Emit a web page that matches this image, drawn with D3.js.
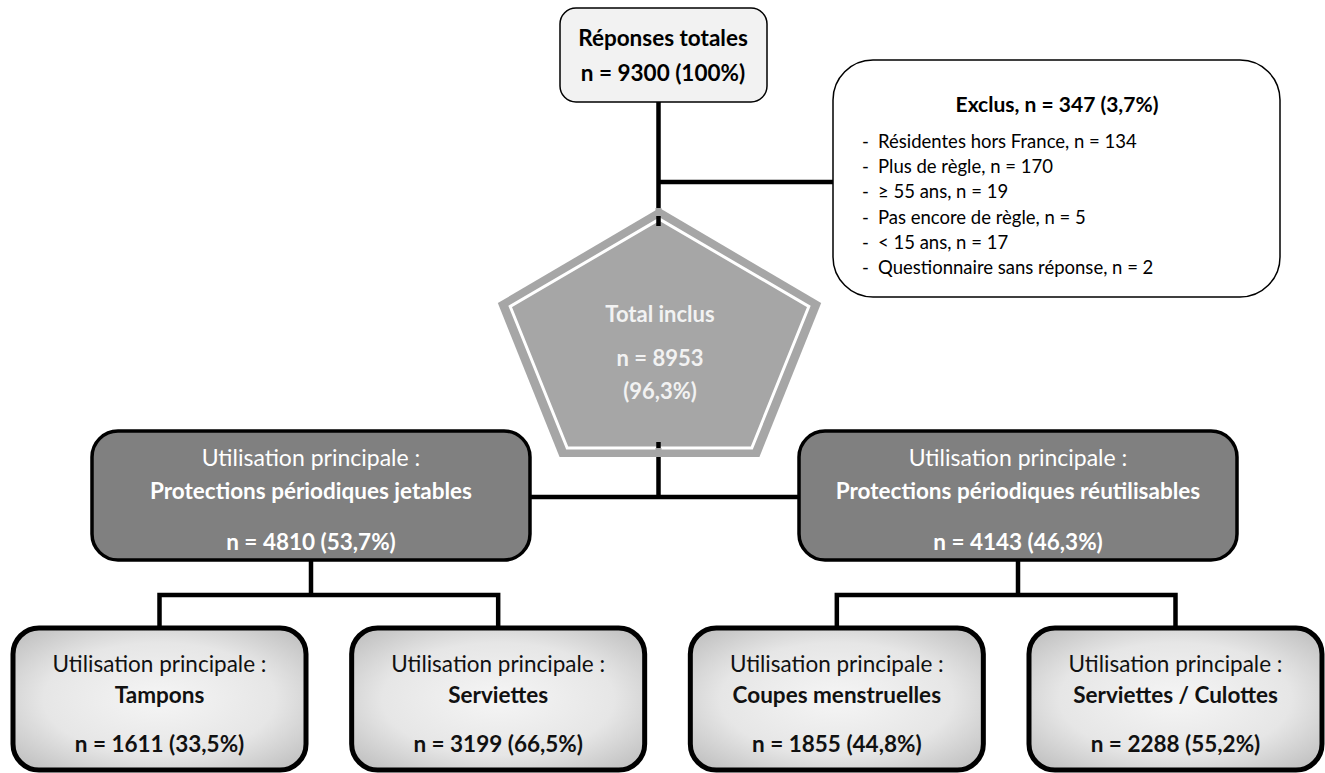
<!DOCTYPE html>
<html>
<head>
<meta charset="utf-8">
<script src="https://cdn.jsdelivr.net/npm/d3@7"></script>
<style>
  body { margin: 0; background: #ffffff; }
  svg text { font-family: Lato, "Open Sans", sans-serif; }
</style>
</head>
<body>
<svg id="flowViz" width="1325" height="773"></svg>
<script>
const totalResponses = 9300;
const totalPct = "100%";
const excludedN = 347;
const excludedPct = "3,7%";
const exclusionReasons = ["Résidentes hors France", "Plus de règle", "≥ 55 ans", "Pas encore de règle", "< 15 ans", "Questionnaire sans réponse"];
const exclusionCounts = [134, 170, 19, 5, 17, 2];
const includedN = 8953;
const includedPct = "96,3%";
const groupNames = ["Protections périodiques jetables", "Protections périodiques réutilisables"];
const groupCounts = [4810, 4143];
const groupPcts = ["53,7%", "46,3%"];
const productNames = ["Tampons", "Serviettes", "Coupes menstruelles", "Serviettes / Culottes"];
const productParent = [0, 0, 1, 1];
const productCounts = [1611, 3199, 1855, 2288];
const productPcts = ["33,5%", "66,5%", "44,8%", "55,2%"];
const headerText = "Utilisation principale :";

const svg = d3.select("#flowViz");

const groupX = d3.scaleBand().domain(groupNames).range([92, 1237]).paddingInner(0.3805);
const productX = d3.scaleBand().domain(productNames).range([13, 1322]).paddingInner(0.1348);
const reasonY = d3.scalePoint().domain(exclusionReasons).range([141, 267]);

const midX = 658.5;
const groupTop = 431, groupH = 129;
const productTop = 628, productH = 142;
const branchY = 497;
const subBranchY = 595;
const boxFont = 22.5;

const defs = svg.append("defs");
const grad = defs.append("radialGradient").attr("id", "lightGrad")
  .attr("cx", "50%").attr("cy", "50%").attr("r", "72%");
grad.append("stop").attr("offset", "0%").attr("stop-color", "#f5f5f5");
grad.append("stop").attr("offset", "55%").attr("stop-color", "#e6e6e6");
grad.append("stop").attr("offset", "100%").attr("stop-color", "#b8b8b8");

// connectors
const lines = svg.append("g").attr("fill", "none").attr("stroke", "#000").attr("stroke-width", 4.5);
lines.append("path").attr("d", `M${midX},102 V${branchY}`);
lines.append("path").attr("d", `M${midX},182 H833`);
lines.append("path").attr("d", `M${groupX(groupNames[0]) + groupX.bandwidth()},${branchY} H${groupX(groupNames[1])}`);

groupNames.forEach((g, gi) => {
  const cx = groupX(g) + groupX.bandwidth() / 2;
  const kids = productNames.filter((p, i) => productParent[i] === gi);
  const x0 = productX(kids[0]) + productX.bandwidth() / 2;
  const x1 = productX(kids[kids.length - 1]) + productX.bandwidth() / 2;
  lines.append("path").attr("d", `M${cx},${groupTop + groupH} V${subBranchY}`);
  lines.append("path").attr("d", `M${x0},${productTop} V${subBranchY} H${x1} V${productTop}`);
});

// top box
svg.append("rect")
  .attr("x", 560).attr("y", 8).attr("width", 207).attr("height", 94)
  .attr("rx", 16)
  .attr("fill", "#f2f2f2").attr("stroke", "#000").attr("stroke-width", 1.5);
svg.append("text").text("Réponses totales")
  .attr("x", 663).attr("y", 37).attr("text-anchor", "middle").attr("dominant-baseline", "central")
  .attr("font-size", 22.5).attr("font-weight", "bold");
svg.append("text").text(`n = ${totalResponses} (${totalPct})`)
  .attr("x", 663).attr("y", 72).attr("text-anchor", "middle").attr("dominant-baseline", "central")
  .attr("font-size", 22.5).attr("font-weight", "bold");

// excluded box
svg.append("rect")
  .attr("x", 833).attr("y", 60).attr("width", 447).attr("height", 237)
  .attr("rx", 40)
  .attr("fill", "#fff").attr("stroke", "#000").attr("stroke-width", 1.5);
svg.append("text").text(`Exclus, n = ${excludedN} (${excludedPct})`)
  .attr("x", 1057).attr("y", 103).attr("text-anchor", "middle").attr("dominant-baseline", "central")
  .attr("font-size", 21).attr("font-weight", "bold");
const rows = svg.append("g").attr("font-size", 18.5);
exclusionReasons.forEach((r, i) => {
  rows.append("text").text("-")
    .attr("x", 862).attr("y", reasonY(r)).attr("dominant-baseline", "central");
  rows.append("text").text(`${r}, n = ${exclusionCounts[i]}`)
    .attr("x", 878).attr("y", reasonY(r)).attr("dominant-baseline", "central");
});

// pentagon
function pentagon(cx, cy, rx, ry) {
  return d3.range(5).map(k => {
    const a = -Math.PI / 2 + k * 2 * Math.PI / 5;
    return [cx + rx * Math.cos(a), cy + ry * Math.sin(a)];
  });
}
const pCx = 659.5, pCy = 345.6;
svg.append("polygon")
  .attr("points", pentagon(pCx, pCy, 170, 137.6).join(" "))
  .attr("fill", "#a6a6a6");
svg.append("polygon")
  .attr("points", pentagon(pCx, pCy, 157, 126.5).join(" "))
  .attr("fill", "none").attr("stroke", "#fff").attr("stroke-width", 3);
lines.raise();
svg.append("path").attr("d", `M${midX},208 V216 M${midX},448 V457`)
  .attr("stroke", "#a6a6a6").attr("stroke-width", 6);
svg.append("path").attr("d", `M${midX},226 V442`)
  .attr("stroke", "#a6a6a6").attr("stroke-width", 6);
const pentText = svg.append("g").attr("fill", "#f2f2f2").attr("font-weight", "bold")
  .attr("font-size", 22).attr("text-anchor", "middle");
pentText.append("text").text("Total inclus").attr("x", 660).attr("y", 313).attr("dominant-baseline", "central");
pentText.append("text").text(`n = ${includedN}`).attr("x", 660).attr("y", 357).attr("dominant-baseline", "central");
pentText.append("text").text(`(${includedPct})`).attr("x", 660).attr("y", 390).attr("dominant-baseline", "central");

// group boxes
groupNames.forEach((g, i) => {
  const x = groupX(g), cx = x + groupX.bandwidth() / 2;
  svg.append("rect")
    .attr("x", x).attr("y", groupTop).attr("width", groupX.bandwidth()).attr("height", groupH)
    .attr("rx", 26)
    .attr("fill", "#808080").attr("stroke", "#000").attr("stroke-width", 3.5);
  svg.append("text").text(headerText)
    .attr("x", cx).attr("y", groupTop + 26).attr("text-anchor", "middle").attr("dominant-baseline", "central")
    .attr("fill", "#fff").attr("font-size", boxFont + 0.5);
  svg.append("text").text(g)
    .attr("x", cx).attr("y", groupTop + 59).attr("text-anchor", "middle").attr("dominant-baseline", "central")
    .attr("fill", "#fff").attr("font-size", boxFont).attr("font-weight", "bold");
  svg.append("text").text(`n = ${groupCounts[i]} (${groupPcts[i]})`)
    .attr("x", cx).attr("y", groupTop + 110).attr("text-anchor", "middle").attr("dominant-baseline", "central")
    .attr("fill", "#fff").attr("font-size", boxFont).attr("font-weight", "bold");
});

// product boxes
productNames.forEach((p, i) => {
  const x = productX(p), cx = x + productX.bandwidth() / 2;
  svg.append("rect")
    .attr("x", x).attr("y", productTop).attr("width", productX.bandwidth()).attr("height", productH)
    .attr("rx", 26)
    .attr("fill", "url(#lightGrad)").attr("stroke", "#000").attr("stroke-width", 5);
  svg.append("text").text(headerText)
    .attr("x", cx).attr("y", productTop + 35).attr("text-anchor", "middle").attr("dominant-baseline", "central")
    .attr("fill", "#111").attr("font-size", boxFont);
  svg.append("text").text(p)
    .attr("x", cx).attr("y", productTop + 66).attr("text-anchor", "middle").attr("dominant-baseline", "central")
    .attr("fill", "#111").attr("font-size", boxFont).attr("font-weight", "bold");
  svg.append("text").text(`n = ${productCounts[i]} (${productPcts[i]})`)
    .attr("x", cx).attr("y", productTop + 115).attr("text-anchor", "middle").attr("dominant-baseline", "central")
    .attr("fill", "#111").attr("font-size", boxFont).attr("font-weight", "bold");
});
</script>
</body>
</html>
